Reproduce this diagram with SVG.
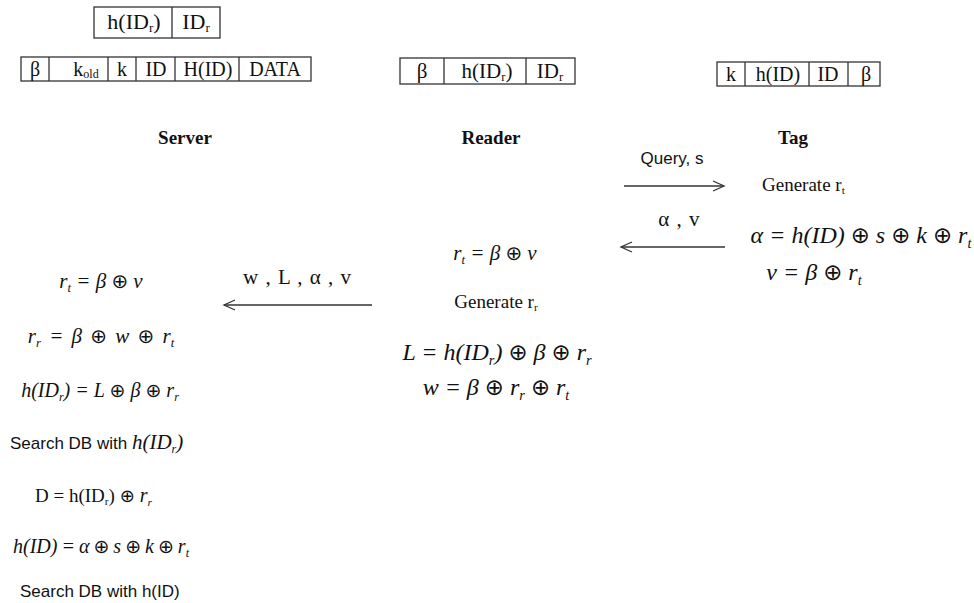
<svg xmlns="http://www.w3.org/2000/svg" width="974" height="603" viewBox="0 0 974 603">
<defs>
<style>
.bx{fill:#fff;stroke:#333;stroke-width:1.3}
.dv{stroke:#333;stroke-width:1.3}
.t{font-family:"Liberation Serif","Times New Roman",serif;font-size:19px;fill:#111;text-anchor:middle}
.h{font-family:"Liberation Serif","Times New Roman",serif;font-size:19px;font-weight:bold;fill:#111;text-anchor:middle}
.s{font-family:"Liberation Sans",Arial,sans-serif;font-size:17px;fill:#111}
.g{font-family:"Liberation Serif","Times New Roman",serif;font-size:18px;fill:#111}
.m{font-family:"Liberation Serif","Times New Roman",serif;font-style:italic;fill:#111;text-anchor:middle}
.o{font-style:normal;font-family:"DejaVu Sans",sans-serif;font-size:95%}
.sub{font-size:60%}
.ln{stroke:#333;stroke-width:1.3;fill:none}
</style>
<marker id="ah" markerWidth="14" markerHeight="12" refX="12" refY="6" orient="auto" markerUnits="userSpaceOnUse">
<path d="M1,1 L12,6 L1,11" fill="none" stroke="#333" stroke-width="1.3"/>
</marker>
</defs>

<g id="server-key-box">
<rect class="bx" x="94" y="7" width="126" height="31"/>
<line class="dv" x1="172" y1="7" x2="172" y2="38"/>
<text class="t" x="134" y="29" style="font-size:22px">h(ID<tspan class="sub" dy="3">r</tspan><tspan dy="-3">)</tspan></text>
<text class="t" x="196" y="29" style="font-size:22px">ID<tspan class="sub" dy="3">r</tspan></text>
</g>

<g id="server-db-box">
<rect class="bx" x="21" y="57" width="290" height="24"/>
<line class="dv" x1="49" y1="57" x2="49" y2="81"/>
<line class="dv" x1="108" y1="57" x2="108" y2="81"/>
<line class="dv" x1="136" y1="57" x2="136" y2="81"/>
<line class="dv" x1="175" y1="57" x2="175" y2="81"/>
<line class="dv" x1="239" y1="57" x2="239" y2="81"/>
<text class="t" x="35" y="76" style="font-size:20px">β</text>
<text class="t" x="86" y="76" style="font-size:20px">k<tspan class="sub" dy="2">old</tspan></text>
<text class="t" x="122" y="76" style="font-size:20px">k</text>
<text class="t" x="156" y="76" style="font-size:20px">ID</text>
<text class="t" x="208" y="76" style="font-size:20px">H(ID)</text>
<text class="t" x="275" y="76" style="font-size:20px">DATA</text>
</g>

<g id="reader-box">
<rect class="bx" x="400" y="58" width="175" height="26"/>
<line class="dv" x1="444" y1="58" x2="444" y2="84"/>
<line class="dv" x1="526" y1="58" x2="526" y2="84"/>
<text class="t" x="422" y="78" style="font-size:21px">β</text>
<text class="t" x="487" y="78" style="font-size:21px">h(ID<tspan class="sub" dy="3">r</tspan><tspan dy="-3">)</tspan></text>
<text class="t" x="550" y="78" style="font-size:21px">ID<tspan class="sub" dy="3">r</tspan></text>
</g>

<g id="tag-box">
<rect class="bx" x="717" y="62" width="163" height="24"/>
<line class="dv" x1="745" y1="62" x2="745" y2="86"/>
<line class="dv" x1="809" y1="62" x2="809" y2="86"/>
<line class="dv" x1="848" y1="62" x2="848" y2="86"/>
<text class="t" x="731" y="81" style="font-size:20px">k</text>
<text class="t" x="778" y="81" style="font-size:20px">h(ID)</text>
<text class="t" x="828" y="81" style="font-size:20px">ID</text>
<text class="t" x="866" y="81" style="font-size:20px">β</text>
</g>

<g id="server">
<text class="h" x="185" y="144">Server</text>
<text class="m" x="101" y="288" font-size="21">r<tspan class="sub" dy="4">t</tspan><tspan dy="-4"> = β </tspan><tspan class="o">⊕</tspan> v</text>
<text class="m" x="101" y="343" font-size="21" word-spacing="3">r<tspan class="sub" dy="4">r</tspan><tspan dy="-4">  =  β  </tspan><tspan class="o">⊕</tspan> w <tspan class="o">⊕</tspan> r<tspan class="sub" dy="4">t</tspan></text>
<text class="m" x="100" y="397" font-size="20">h(ID<tspan class="sub" dy="4">r</tspan><tspan dy="-4">) = L </tspan><tspan class="o">⊕</tspan> β <tspan class="o">⊕</tspan> r<tspan class="sub" dy="4">r</tspan></text>
<text class="s" x="10" y="449">Search DB with <tspan font-family="Liberation Serif, serif" font-style="italic" font-size="21">h(ID</tspan><tspan font-family="Liberation Serif, serif" font-style="italic" font-size="12" dy="4">r</tspan><tspan font-family="Liberation Serif, serif" font-style="italic" font-size="21" dy="-4">)</tspan></text>
<text class="g" x="35" y="502" style="font-size:19px">D = h(ID<tspan class="sub" dy="3">r</tspan><tspan dy="-3">)  </tspan><tspan class="o">⊕</tspan><tspan font-style="italic" font-size="20"> r</tspan><tspan class="sub" font-style="italic" dy="4">r</tspan></text>
<text class="m" x="101" y="553" font-size="20" word-spacing="-1">h(ID) = α <tspan class="o">⊕</tspan> s <tspan class="o">⊕</tspan> k <tspan class="o">⊕</tspan> r<tspan class="sub" dy="4">t</tspan></text>
<text class="s" x="20" y="597">Search DB with h(ID)</text>
</g>

<g id="reader">
<text class="h" x="491" y="144">Reader</text>
<text class="m" x="495" y="260" font-size="21">r<tspan class="sub" dy="4">t</tspan><tspan dy="-4"> = β </tspan><tspan class="o">⊕</tspan> v</text>
<text class="g" x="496" y="308" text-anchor="middle" style="font-size:19px">Generate r<tspan class="sub" dy="3">r</tspan></text>
<text class="m" x="497" y="360" font-size="24">L = h(ID<tspan class="sub" dy="5">r</tspan><tspan dy="-5">) </tspan><tspan class="o">⊕</tspan> β <tspan class="o">⊕</tspan> r<tspan class="sub" dy="5">r</tspan></text>
<text class="m" x="496" y="395" font-size="24">w = β <tspan class="o">⊕</tspan> r<tspan class="sub" dy="5">r</tspan><tspan dy="-5"> </tspan><tspan class="o">⊕</tspan> r<tspan class="sub" dy="5">t</tspan></text>
</g>

<g id="tag">
<text class="h" x="793" y="144">Tag</text>
<text class="g" x="762" y="191" style="font-size:19px">Generate r<tspan class="sub" dy="3">t</tspan></text>
<text class="m" x="861" y="243" font-size="24">α = h(ID) <tspan class="o">⊕</tspan> s <tspan class="o">⊕</tspan> k <tspan class="o">⊕</tspan> r<tspan class="sub" dy="5">t</tspan></text>
<text class="m" x="814" y="280" font-size="24">v = β <tspan class="o">⊕</tspan> r<tspan class="sub" dy="5">t</tspan></text>
</g>

<g id="connectors">
<line class="ln" x1="624" y1="186" x2="724" y2="186" marker-end="url(#ah)"/>
<text class="s" x="672" y="164" text-anchor="middle">Query, s</text>
<line class="ln" x1="725" y1="247" x2="621" y2="247" marker-end="url(#ah)"/>
<text class="t" x="679" y="226" style="font-size:21px" word-spacing="2">α , v</text>
<line class="ln" x1="372" y1="305" x2="224" y2="305" marker-end="url(#ah)"/>
<text class="t" x="297" y="284" style="font-size:21px" word-spacing="2">w , L , α , v</text>
</g>
</svg>
